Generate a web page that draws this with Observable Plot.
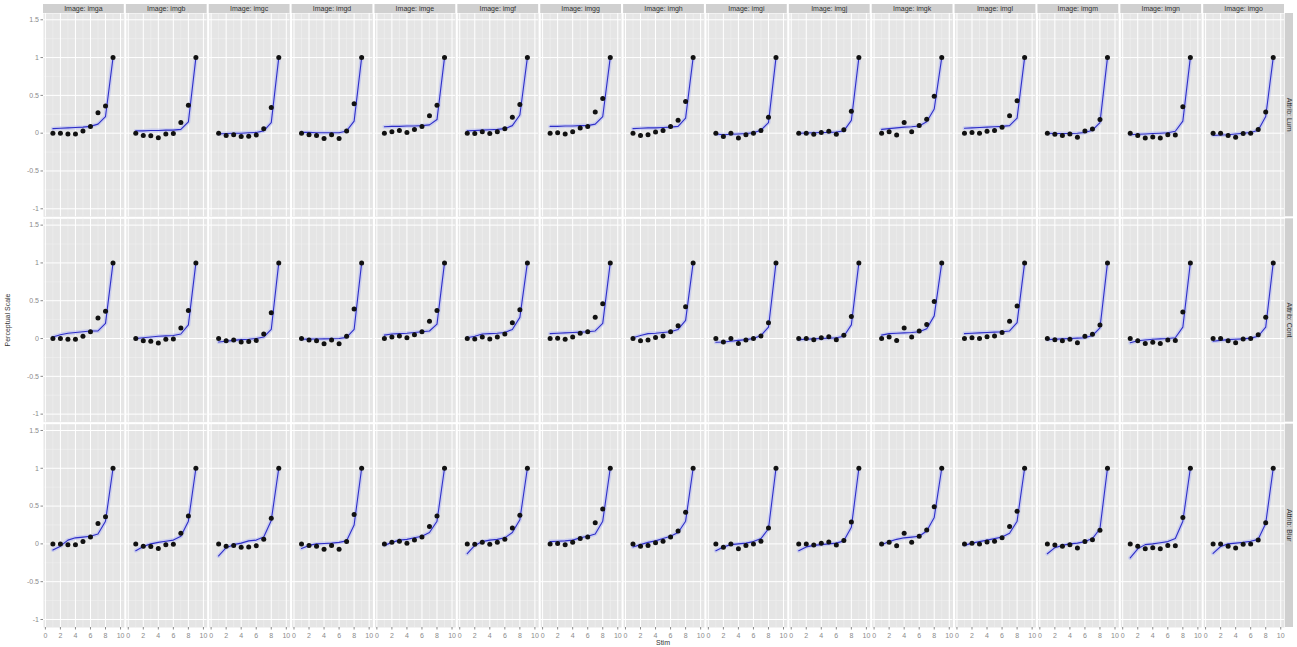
<!DOCTYPE html>
<html><head><meta charset="utf-8">
<script src="https://cdn.jsdelivr.net/npm/d3@7"></script>
<script src="https://cdn.jsdelivr.net/npm/@observablehq/plot@0.6"></script>
<style>body{margin:0;background:#fff;} #chart{width:1297px;height:647px;}</style>
</head><body><div id="chart"></div><script>
const images = ["imga","imgb","imgc","imgd","imge","imgf","imgg","imgh","imgi","imgj","imgk","imgl","imgm","imgn","imgo"];
const attribs = ["Lum","Cont","Blur"];
const stim = [1,2,3,4,5,6,7,8,9];
const xTicks = [0,2,4,6,8,10];
const xMinor = [1,3,5,7,9];
const yTicks = [-1,-0.5,0,0.5,1,1.5];
const yMinor = [-0.75,-0.25,0.25,0.75,1.25];

// observed perceptual scale values (same in every attribute row), one array per image
const points = [
  [0, 0, -0.01, -0.01, 0.03, 0.09, 0.27, 0.36, 1.0],
  [0, -0.03, -0.035, -0.06, -0.01, -0.005, 0.14, 0.37, 1.0],
  [0, -0.03, -0.02, -0.045, -0.04, -0.025, 0.06, 0.34, 1.0],
  [0, -0.02, -0.03, -0.07, -0.02, -0.07, 0.03, 0.39, 1.0],
  [0, 0.02, 0.035, 0.01, 0.05, 0.09, 0.23, 0.37, 1.0],
  [0, -0.005, 0.02, -0.005, 0.02, 0.06, 0.21, 0.38, 1.0],
  [0, 0.005, -0.01, 0.02, 0.07, 0.09, 0.28, 0.46, 1.0],
  [0, -0.03, -0.02, 0.015, 0.035, 0.09, 0.17, 0.42, 1.0],
  [0, -0.045, 0, -0.065, -0.02, 0, 0.035, 0.21, 1.0],
  [0, 0, -0.015, 0.01, 0.025, -0.015, 0.045, 0.29, 1.0],
  [0, 0.02, -0.025, 0.14, 0.02, 0.1, 0.185, 0.49, 1.0],
  [0, 0.01, 0, 0.025, 0.035, 0.08, 0.23, 0.43, 1.0],
  [0, -0.015, -0.03, -0.01, -0.055, 0.03, 0.055, 0.18, 1.0],
  [0, -0.03, -0.065, -0.05, -0.065, -0.02, -0.025, 0.35, 1.0],
  [0, 0, -0.03, -0.055, -0.005, 0, 0.05, 0.28, 1.0]
];

// fitted curves per attribute, one array per image
const fitLum = [
  [0.06, 0.065, 0.07, 0.075, 0.08, 0.09, 0.12, 0.22, 1.0],
  [0.03, 0.03, 0.035, 0.035, 0.04, 0.04, 0.05, 0.15, 1.0],
  [-0.01, -0.005, 0, 0, 0.005, 0.01, 0.03, 0.14, 1.0],
  [0.01, 0.01, 0.005, 0.005, 0.005, 0.005, 0.03, 0.16, 1.0],
  [0.085, 0.09, 0.09, 0.095, 0.095, 0.1, 0.11, 0.18, 1.0],
  [0.03, 0.035, 0.04, 0.045, 0.05, 0.06, 0.1, 0.24, 1.0],
  [0.09, 0.09, 0.095, 0.095, 0.1, 0.1, 0.12, 0.22, 1.0],
  [0.06, 0.065, 0.07, 0.07, 0.075, 0.08, 0.09, 0.2, 1.0],
  [-0.01, -0.02, -0.015, -0.01, -0.005, 0.005, 0.04, 0.14, 1.0],
  [0, 0.003, 0.005, 0.008, 0.01, 0.015, 0.03, 0.17, 1.0],
  [0.05, 0.06, 0.07, 0.08, 0.085, 0.095, 0.15, 0.32, 1.0],
  [0.065, 0.07, 0.075, 0.08, 0.085, 0.09, 0.1, 0.2, 1.0],
  [0, -0.005, -0.005, -0.005, 0, 0.01, 0.04, 0.14, 1.0],
  [-0.02, -0.015, -0.01, -0.005, 0, 0.005, 0.025, 0.16, 1.0],
  [-0.03, -0.025, -0.02, -0.01, 0, 0.01, 0.04, 0.22, 1.0]
];
const fitCont = [
  [0.02, 0.05, 0.07, 0.08, 0.09, 0.10, 0.10, 0.20, 1.0],
  [0, 0.01, 0.02, 0.03, 0.035, 0.04, 0.06, 0.18, 1.0],
  [-0.045, -0.035, -0.025, -0.015, -0.01, 0, 0.02, 0.12, 1.0],
  [-0.01, -0.008, -0.006, -0.004, -0.002, 0, 0.015, 0.12, 1.0],
  [0.045, 0.06, 0.065, 0.07, 0.08, 0.09, 0.1, 0.19, 1.0],
  [0.01, 0.03, 0.06, 0.065, 0.07, 0.08, 0.12, 0.28, 1.0],
  [0.065, 0.07, 0.075, 0.08, 0.085, 0.09, 0.1, 0.2, 1.0],
  [0.01, 0.04, 0.065, 0.07, 0.08, 0.09, 0.12, 0.24, 1.0],
  [-0.05, -0.045, -0.035, -0.025, -0.015, 0, 0.04, 0.15, 1.0],
  [-0.015, -0.01, -0.005, 0, 0.005, 0.01, 0.03, 0.18, 1.0],
  [0.045, 0.065, 0.07, 0.075, 0.08, 0.09, 0.13, 0.3, 1.0],
  [0.065, 0.07, 0.075, 0.08, 0.085, 0.09, 0.1, 0.21, 1.0],
  [-0.015, -0.01, -0.005, 0, 0.005, 0.01, 0.04, 0.14, 1.0],
  [-0.055, -0.03, -0.02, -0.01, -0.005, 0, 0.01, 0.15, 1.0],
  [-0.035, -0.025, -0.015, -0.01, -0.005, 0.005, 0.03, 0.15, 1.0]
];
const fitBlur = [
  [-0.08, -0.03, 0.05, 0.08, 0.09, 0.10, 0.13, 0.30, 1.0],
  [-0.09, -0.035, 0, 0.02, 0.035, 0.05, 0.1, 0.3, 1.0],
  [-0.16, -0.05, -0.01, 0.01, 0.04, 0.05, 0.09, 0.31, 1.0],
  [-0.06, -0.02, 0, 0.005, 0.01, 0.02, 0.04, 0.25, 1.0],
  [-0.02, 0.02, 0.05, 0.06, 0.08, 0.1, 0.15, 0.3, 1.0],
  [-0.13, -0.02, 0.03, 0.05, 0.06, 0.08, 0.15, 0.32, 1.0],
  [0.03, 0.035, 0.04, 0.05, 0.08, 0.1, 0.13, 0.3, 1.0],
  [-0.04, -0.01, 0.02, 0.04, 0.07, 0.1, 0.15, 0.3, 1.0],
  [-0.09, -0.04, -0.01, 0, 0.01, 0.03, 0.07, 0.2, 1.0],
  [-0.09, -0.04, -0.02, -0.01, 0, 0.01, 0.04, 0.22, 1.0],
  [-0.01, 0.03, 0.06, 0.08, 0.09, 0.1, 0.17, 0.35, 1.0],
  [-0.02, 0.01, 0.03, 0.05, 0.07, 0.09, 0.14, 0.3, 1.0],
  [-0.13, -0.05, -0.02, 0, 0.01, 0.03, 0.07, 0.2, 1.0],
  [-0.185, -0.065, -0.01, 0, 0.015, 0.03, 0.07, 0.3, 1.0],
  [-0.125, -0.035, 0, 0.01, 0.02, 0.035, 0.06, 0.27, 1.0]
];

const fits = {Lum: fitLum, Cont: fitCont, Blur: fitBlur};
const pointData = [], lineData = [];
attribs.forEach(a => images.forEach((img, i) => stim.forEach((s, j) => {
  pointData.push({attrib: a, image: img, stim: s, value: points[i][j]});
  lineData.push({attrib: a, image: img, stim: s, value: fits[a][i][j]});
})));

const fmt = d => String(d);
const plot = Plot.plot({
  width: 1297, height: 647,
  marginLeft: 43, marginRight: 13, marginTop: 13, marginBottom: 20,
  style: {fontFamily: "'Liberation Sans', Arial, sans-serif", fontSize: "7px", background: "#fff", color: "#7f7f7f"},
  fx: {domain: images, paddingInner: 0.025, paddingOuter: 0, round: false, axis: null, label: null},
  fy: {domain: attribs, paddingInner: 0.01, paddingOuter: 0, round: false, axis: null, label: null},
  x: {domain: [-0.25, 10.5], label: null},
  y: {domain: [-1.106, 1.583], label: null},
  marks: [
    Plot.frame({fill: "#E5E5E5", stroke: null}),
    Plot.gridX(xMinor, {stroke: "#F2F2F2", strokeOpacity: 1, strokeWidth: 0.5}),
    Plot.gridY(yMinor, {stroke: "#F2F2F2", strokeOpacity: 1, strokeWidth: 0.5}),
    Plot.gridX(xTicks, {stroke: "#FFFFFF", strokeOpacity: 1, strokeWidth: 1}),
    Plot.gridY(yTicks, {stroke: "#FFFFFF", strokeOpacity: 1, strokeWidth: 1}),
    Plot.line(lineData, {x: "stim", y: "value", fx: "image", fy: "attrib", z: null, stroke: "#b8bcf2", strokeWidth: 4, strokeOpacity: 0.6}),
    Plot.line(lineData, {x: "stim", y: "value", fx: "image", fy: "attrib", z: null, stroke: "#2f2fc8", strokeWidth: 1.1}),
    Plot.dot(pointData, {x: "stim", y: "value", fx: "image", fy: "attrib", r: 2.5, fill: "#111", stroke: null}),
    Plot.axisX(xTicks, {tickSize: 2.5, tickPadding: 3, tickFormat: fmt, label: null, color: "#8a8a8a", fontSize: 7}),
    Plot.axisY(yTicks, {tickSize: 2.5, tickPadding: 2, tickFormat: fmt, label: null, color: "#8a8a8a", fontSize: 7})
  ]
});
document.getElementById("chart").appendChild(plot);

// facet strips and axis titles
const svg = d3.select(plot);
const fx = plot.scale("fx"), fy = plot.scale("fy");
const g = svg.append("g").attr("font-family", "'Liberation Sans', Arial, sans-serif").attr("font-size", 7);
images.forEach(img => {
  const x0 = fx.apply(img);
  g.append("rect").attr("x", x0).attr("y", 4).attr("width", fx.bandwidth).attr("height", 9).attr("fill", "#D0D0D0");
  g.append("text").attr("x", x0 + fx.bandwidth / 2).attr("y", 8.8).attr("text-anchor", "middle")
    .attr("dominant-baseline", "middle").attr("fill", "#333").text("Image: " + img);
});
attribs.forEach(a => {
  const y0 = fy.apply(a);
  g.append("rect").attr("x", 1285).attr("y", y0).attr("width", 8).attr("height", fy.bandwidth).attr("fill", "#D0D0D0");
  const cy = y0 + fy.bandwidth / 2;
  g.append("text").attr("transform", `translate(1289,${cy}) rotate(90)`).attr("text-anchor", "middle")
    .attr("dominant-baseline", "middle").attr("fill", "#333").text("Attrib: " + a);
});
g.append("text").attr("transform", "translate(8,320) rotate(-90)").attr("text-anchor", "middle")
  .attr("dominant-baseline", "middle").attr("fill", "#333").text("Perceptual Scale");
g.append("text").attr("x", 663).attr("y", 643.5).attr("text-anchor", "middle")
  .attr("dominant-baseline", "middle").attr("fill", "#333").text("Stim");
</script></body></html>
